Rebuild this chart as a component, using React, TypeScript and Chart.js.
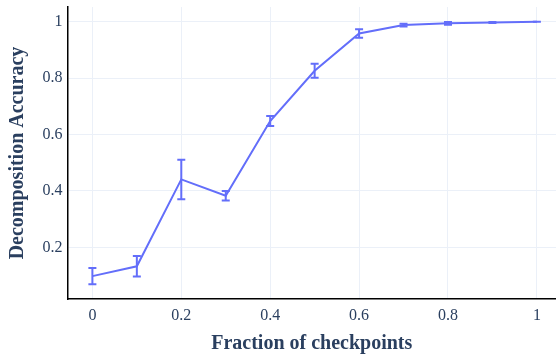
import React, { useEffect, useRef } from "react";
import { Chart, registerables } from "chart.js";

Chart.register(...registerables);

const fractions = [0, 0.1, 0.2, 0.3, 0.4, 0.5, 0.6, 0.7, 0.8, 0.9, 1.0];
const accuracy = [0.098, 0.133, 0.441, 0.383, 0.648, 0.826, 0.958, 0.988, 0.994, 0.997, 1.0];
const errors = [0.029, 0.036, 0.07, 0.017, 0.018, 0.025, 0.015, 0.005, 0.005, 0.002, 0.0];
const xTicks = [0, 0.2, 0.4, 0.6, 0.8, 1];
const yTicks = [0.2, 0.4, 0.6, 0.8, 1];

const COLOR = "#636efa";
const TEXT = "#2a3f5f";
const GRID = "#ebf0f8";
const FONT = "'Liberation Serif', 'Times New Roman', serif";

const errorBarPlugin = {
  id: "errorBars",
  afterDatasetsDraw(chart: any) {
    const ctx = chart.ctx;
    const xs = chart.scales.x;
    const ys = chart.scales.y;
    ctx.save();
    ctx.strokeStyle = COLOR;
    ctx.lineWidth = 2;
    fractions.forEach((f, i) => {
      const px = xs.getPixelForValue(f);
      const top = ys.getPixelForValue(accuracy[i] + errors[i]);
      const bot = ys.getPixelForValue(accuracy[i] - errors[i]);
      const cap = 4;
      ctx.beginPath();
      ctx.moveTo(px, top);
      ctx.lineTo(px, bot);
      ctx.moveTo(px - cap, top);
      ctx.lineTo(px + cap, top);
      ctx.moveTo(px - cap, bot);
      ctx.lineTo(px + cap, bot);
      ctx.stroke();
    });
    ctx.restore();
  },
};

export default function App() {
  const ref = useRef<HTMLCanvasElement>(null);
  useEffect(() => {
    document.body.style.margin = "0";
    const chart = new Chart(ref.current!, {
      type: "line",
      data: {
        datasets: [
          {
            data: fractions.map((f, i) => ({ x: f, y: accuracy[i] })),
            borderColor: COLOR,
            backgroundColor: COLOR,
            borderWidth: 2,
            pointRadius: 0,
            tension: 0,
          },
        ],
      },
      options: {
        animation: false,
        responsive: false,
        maintainAspectRatio: false,
        layout: { padding: { top: 7, right: 0, left: 0, bottom: 0 } },
        plugins: { legend: { display: false }, tooltip: { enabled: false } },
        scales: {
          x: {
            type: "linear",
            min: -0.056,
            max: 1.043,
            afterBuildTicks: (s: any) => {
              s.ticks = xTicks.map((v) => ({ value: v }));
            },
            afterFit: (s: any) => {
              s.height = 55;
              s.paddingLeft = 0;
              s.paddingRight = 0;
            },
            grid: { color: GRID, lineWidth: 1, drawTicks: false },
            border: { display: true, color: "#000", width: 1.5 },
            ticks: {
              padding: 7,
              color: TEXT,
              font: { family: FONT, size: 16 },
              maxRotation: 0,
              callback: (v: any) => String(v),
            },
            title: {
              display: true,
              text: "Fraction of checkpoints",
              color: TEXT,
              font: { family: FONT, size: 20, weight: "bold", lineHeight: 1.0 },
              padding: { top: 0, bottom: 0 },
            },
          },
          y: {
            type: "linear",
            min: 0.017,
            max: 1.052,
            afterBuildTicks: (s: any) => {
              s.ticks = yTicks.map((v) => ({ value: v }));
            },
            afterFit: (s: any) => {
              s.width = 67.5;
              s.paddingTop = 0;
              s.paddingBottom = 0;
            },
            grid: { color: GRID, lineWidth: 1, drawTicks: false },
            border: { display: true, color: "#000", width: 1.5 },
            ticks: {
              padding: 5,
              color: TEXT,
              font: { family: FONT, size: 16 },
              callback: (v: any) => String(v),
            },
            title: {
              display: true,
              text: "Decomposition Accuracy",
              color: TEXT,
              font: { family: FONT, size: 20, weight: "bold" },
              padding: { top: 6, bottom: 0 },
            },
          },
        },
      },
      plugins: [errorBarPlugin],
    });
    return () => chart.destroy();
  }, []);
  return (
    <div style={{ position: "fixed", left: 0, top: 0, width: 556, height: 354 }}>
      <canvas ref={ref} width={556} height={354} style={{ width: 556, height: 354 }} />
    </div>
  );
}
